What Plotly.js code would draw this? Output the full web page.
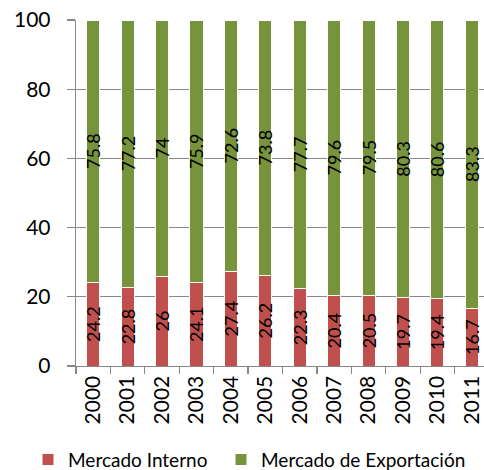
<!DOCTYPE html>
<html><head><meta charset="utf-8">
<script src="https://cdn.plot.ly/plotly-3.0.1.min.js"></script>
<style>html,body{margin:0;padding:0;overflow:hidden;background:#fff;}</style>
</head><body><div id="chart"></div>
<script>
const years = ['2000','2001','2002','2003','2004','2005','2006','2007','2008','2009','2010','2011'];
const interno = [24.2,22.8,26,24.1,27.4,26.2,22.3,20.4,20.5,19.7,19.4,16.7];
const exportacao = [75.8,77.2,74,75.9,72.6,73.8,77.7,79.6,79.5,80.3,80.6,83.3];
const seriesNames = ['Mercado Interno','Mercado de Exportación'];
const FONT = 'Lato, "Open Sans", sans-serif';
function bar(y, name, color, leg){
  return {type:'bar', x:years, y:y, name:name, legend:leg,
    marker:{color:color, line:{color:'#ffffff', width:1}},
    text:y.map(String), textposition:'inside', textangle:-90,
    insidetextanchor:'middle', textfont:{family:FONT, size:18, color:'#000'},
    insidetextfont:{family:FONT, size:18, color:'#000'}, hoverinfo:'none'};
}
const data = [bar(interno, seriesNames[0], '#C0504D', 'legend'), bar(exportacao, seriesNames[1], '#77933C', 'legend2')];
const legBase = {orientation:'h', xref:'container', yref:'container', xanchor:'left', y:0.022, yanchor:'middle',
  font:{family:FONT, size:19, color:'#000'}, itemwidth:30, bgcolor:'rgba(0,0,0,0)'};
const layout = {
  width:490, height:470, barmode:'stack', bargap:0.62,
  margin:{l:76, r:1, t:20, b:104},
  paper_bgcolor:'#fff', plot_bgcolor:'#fff',
  font:{family:FONT, color:'#000'},
  uniformtext:{mode:'show', minsize:18},
  xaxis:{type:'category', range:[-0.5,11.5], tickson:'boundaries', ticks:'outside', ticklen:7,
    tickcolor:'#888', tickwidth:1.3, showline:true, linecolor:'#888', linewidth:1.3,
    tickangle:-90, tickfont:{family:FONT, size:21, color:'#000'}, showgrid:false},
  yaxis:{range:[0,100], dtick:20, ticks:'outside', ticklen:8, tickcolor:'#888', tickwidth:1.3,
    showline:true, linecolor:'#888', linewidth:1.3, gridcolor:'#888', gridwidth:1.3,
    zeroline:false, tickfont:{family:FONT, size:21, color:'#000'}, ticklabelstandoff:12},
  showlegend:true,
  legend:Object.assign({}, legBase, {x:28/490}),
  legend2:Object.assign({}, legBase, {x:221/490})
};
Plotly.newPlot('chart', data, layout, {displayModeBar:false, staticPlot:true});
</script></body></html>
